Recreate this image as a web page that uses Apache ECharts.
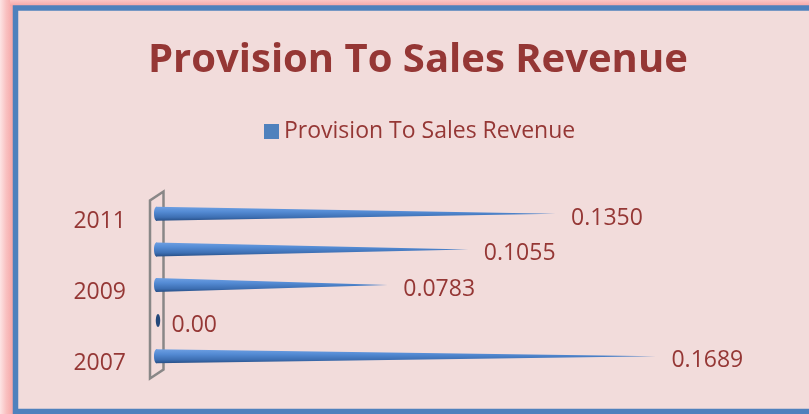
<!DOCTYPE html>
<html>
<head>
<meta charset="utf-8">
<script src="https://cdn.jsdelivr.net/npm/echarts@6/dist/echarts.min.js"></script>
<style>
  html, body { margin: 0; padding: 0; background: #ffffff; }
  #chart { width: 809px; height: 414px; }
</style>
</head>
<body>
<div id="chart"></div>
<script>
// Provision-to-sales ratio by year
const years = ['2007', '2008', '2009', '2010', '2011'];
const ratios = [0.1689, 0.00, 0.0783, 0.1055, 0.1350];
const seriesName = 'Provision To Sales Revenue';

const RED = '#953735';
const FONT = 'Open Sans';
const GRID = { left: 156, top: 196, width: 592, height: 178 };

function fmt(v) {
  return v === 0 ? '0.00' : v.toFixed(4);
}

const chart = echarts.init(document.getElementById('chart'), null, { renderer: 'canvas' });

// cone-shaped horizontal bar: a base disc plus a body tapering to a point at the value
function renderCone(params, api) {
  const v = api.value(0);
  const cat = api.value(1);
  const base = api.coord([0, cat]);
  const tip = api.coord([v, cat]);
  const half = 7;
  const cy = base[1];
  const grad = new echarts.graphic.LinearGradient(0, 0, 0, 1, [
    { offset: 0, color: '#6d9fe2' },
    { offset: 0.35, color: '#548bd4' },
    { offset: 0.75, color: '#3d6fb3' },
    { offset: 1, color: '#284f86' }
  ]);
  const children = [];
  if (v > 0) {
    children.push({
      type: 'polygon',
      shape: { points: [[base[0], cy - half], [tip[0], cy], [base[0], cy + half]] },
      style: { fill: grad }
    });
    children.push({
      type: 'ellipse',
      shape: { cx: base[0] + 0.5, cy: cy, rx: 2.5, ry: half },
      style: { fill: grad }
    });
  } else {
    children.push({
      type: 'ellipse',
      shape: { cx: base[0] + 2, cy: cy, rx: 2.2, ry: 6.5 },
      style: { fill: '#24487a' }
    });
  }
  children.push({
    type: 'text',
    x: tip[0] + 15.5,
    y: cy + 4.5,
    style: {
      text: fmt(v),
      fill: RED,
      font: '23px "' + FONT + '"',
      textAlign: 'left',
      textVerticalAlign: 'middle'
    }
  });
  return { type: 'group', children: children };
}

const option = {
  backgroundColor: '#ffffff',
  animation: false,
  title: {
    text: seriesName,
    left: 148,
    top: 41,
    padding: 0,
    textStyle: {
      fontFamily: FONT,
      fontWeight: 'bold',
      fontSize: 40,
      lineHeight: 40,
      color: RED
    }
  },
  legend: {
    data: [seriesName],
    left: 264,
    top: 120,
    padding: 0,
    icon: 'rect',
    itemWidth: 15,
    itemHeight: 15,
    textStyle: { fontFamily: FONT, fontSize: 23, color: RED }
  },
  grid: GRID,
  xAxis: {
    type: 'value',
    min: 0,
    max: 0.2,
    show: false
  },
  yAxis: {
    type: 'category',
    data: years,
    axisLine: { show: false },
    axisTick: { show: false },
    splitLine: { show: false },
    axisLabel: {
      interval: 1,
      margin: 30,
      fontFamily: FONT,
      fontSize: 23,
      color: RED,
      verticalAlign: 'top',
      lineHeight: 15
    }
  },
  series: [{
    name: seriesName,
    type: 'custom',
    renderItem: renderCone,
    itemStyle: { color: '#4f81bd' },
    encode: { x: 0, y: 1 },
    data: years.map((y, i) => [ratios[i], y]),
    z: 5
  }]
};

chart.setOption(option);

// chart frame (pink glow + blue border) and the 3D axis wall behind the cones
const x0 = chart.convertToPixel({ xAxisIndex: 0 }, 0);
const gTop = GRID.top, gBot = GRID.top + GRID.height;
chart.setOption({
  graphic: [
    {
      type: 'rect',
      z: -12,
      shape: { x: 0, y: 0, width: 14, height: 414 },
      style: {
        fill: new echarts.graphic.LinearGradient(0, 0, 1, 0, [
          { offset: 0, color: '#fde4e4' },
          { offset: 0.45, color: '#f9c0c0' },
          { offset: 1, color: '#f5a2a2' }
        ])
      }
    },
    {
      type: 'rect',
      z: -12,
      shape: { x: 10, y: 0, width: 799, height: 6 },
      style: {
        fill: new echarts.graphic.LinearGradient(0, 0, 0, 1, [
          { offset: 0, color: '#fbc6c6' },
          { offset: 1, color: '#f6a6a6' }
        ])
      }
    },
    {
      type: 'rect',
      z: -10,
      shape: { x: 15.5, y: 8, width: 830, height: 403.5 },
      style: {
        fill: '#f2dcdb',
        stroke: '#4f81bd',
        lineWidth: 5.5
      }
    },
    {
      type: 'polygon',
      z: -5,
      shape: {
        points: [
          [x0 - 6, gTop + 4.5],
          [x0 - 6, gBot + 4.5],
          [x0 + 7.5, gBot - 4.5],
          [x0 + 7.5, gTop - 4.5]
        ]
      },
      style: { fill: 'none', stroke: 'rgba(125,125,125,0.9)', lineWidth: 2.5 }
    }
  ]
});
</script>
</body>
</html>
